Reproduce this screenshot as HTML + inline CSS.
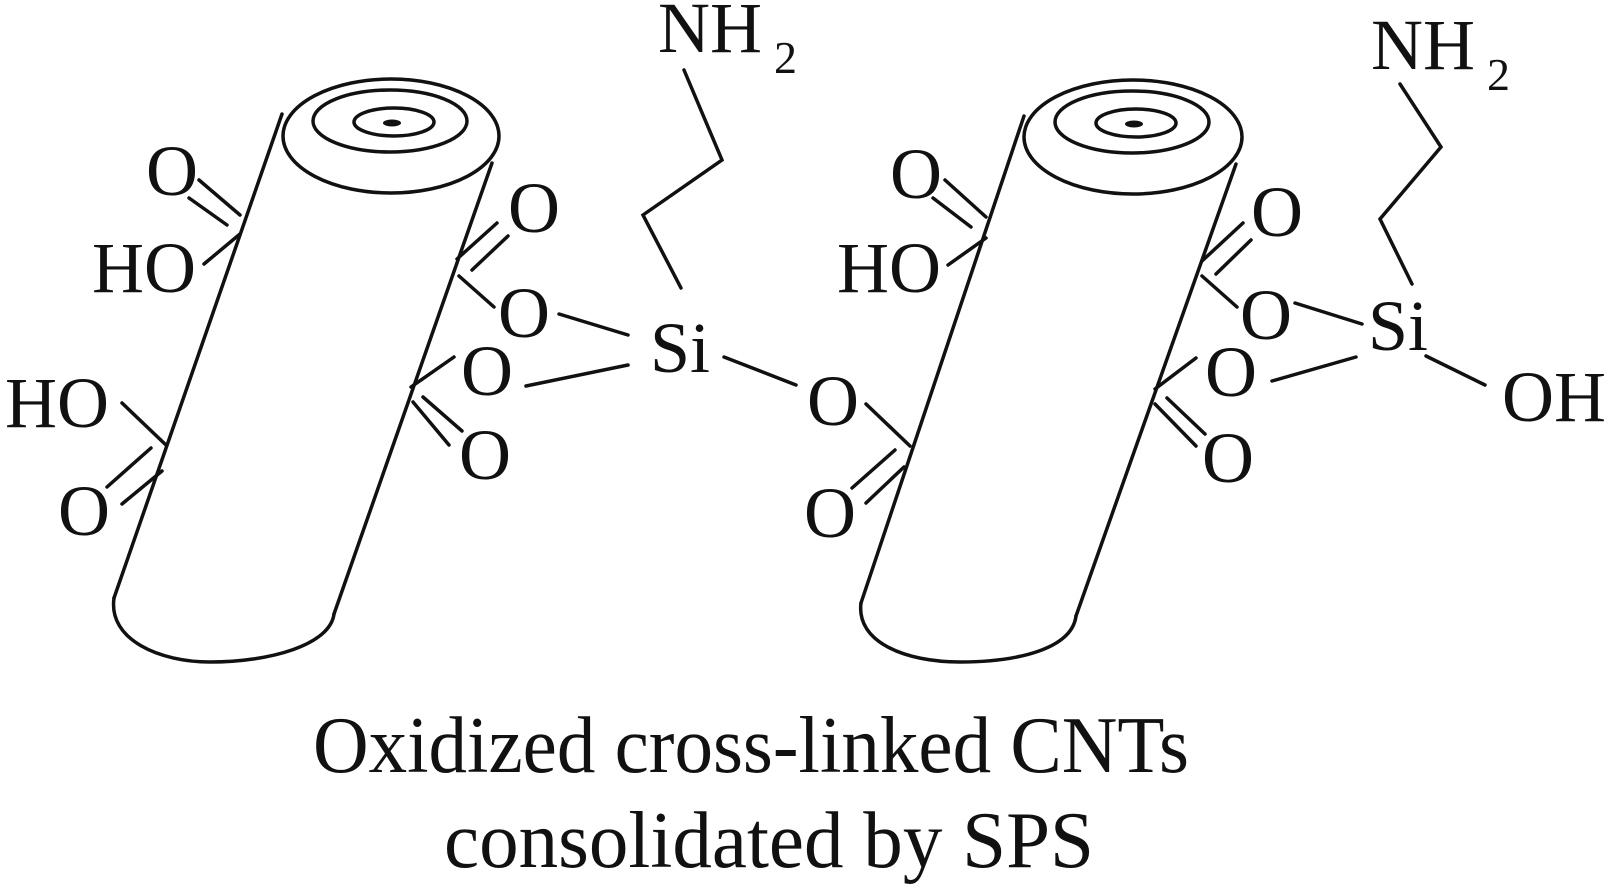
<!DOCTYPE html>
<html><head><meta charset="utf-8"><style>
html,body{margin:0;padding:0;background:#fff;}
svg{display:block;}
text{font-family:"Liberation Serif","DejaVu Serif",serif;fill:#111;}
</style></head><body>
<svg width="1615" height="886" viewBox="0 0 1615 886" xmlns="http://www.w3.org/2000/svg">
<g fill="none" stroke="#111" stroke-width="3.5" stroke-linecap="round">
<!-- Left cylinder -->
<ellipse cx="391" cy="136" rx="108" ry="57"/>
<ellipse cx="390" cy="121" rx="77" ry="31"/>
<ellipse cx="394" cy="122" rx="40" ry="14"/>
<line x1="282" y1="114" x2="114" y2="598"/>
<line x1="492" y1="163" x2="334" y2="614"/>
<path d="M114,598 C108,640 160,662 210,662 C270,662 330,645 334,614"/>
<!-- left cyl groups -->
<line x1="240" y1="215" x2="199" y2="180"/>
<line x1="227" y1="225" x2="189" y2="198"/>
<line x1="240" y1="234" x2="204" y2="264"/>
<line x1="457" y1="259" x2="497" y2="223"/>
<line x1="472" y1="270" x2="508" y2="236"/>
<line x1="459" y1="276" x2="494" y2="307"/>
<line x1="411" y1="387" x2="454" y2="357"/>
<line x1="413" y1="402" x2="449" y2="445"/>
<line x1="423" y1="397" x2="462" y2="431"/>
<line x1="166" y1="445" x2="122" y2="403"/>
<line x1="151" y1="448" x2="107" y2="487"/>
<line x1="162" y1="471" x2="122" y2="504"/>
<line x1="559" y1="314" x2="628" y2="335"/>
<line x1="526" y1="386" x2="628" y2="365"/>
<line x1="724" y1="357" x2="796" y2="385"/>
<polyline points="681,288 643,215 722,160 684,70"/>
<!-- bridge O to right cyl -->
<line x1="866" y1="404" x2="910" y2="446"/>
<!-- Right cylinder -->
<ellipse cx="1133" cy="137" rx="109" ry="57"/>
<ellipse cx="1132" cy="122" rx="77" ry="31"/>
<ellipse cx="1136" cy="123" rx="40" ry="14"/>
<line x1="1024" y1="116" x2="861" y2="603"/>
<line x1="1236" y1="164" x2="1076" y2="616"/>
<path d="M861,603 C856,642 905,662 960,662 C1020,662 1072,648 1076,616"/>
<line x1="986" y1="217" x2="945" y2="180"/>
<line x1="971" y1="227" x2="933" y2="198"/>
<line x1="986" y1="238" x2="948" y2="265"/>
<line x1="1202" y1="261" x2="1243" y2="223"/>
<line x1="1216" y1="274" x2="1251" y2="240"/>
<line x1="1202" y1="276" x2="1237" y2="307"/>
<line x1="1155" y1="389" x2="1196" y2="358"/>
<line x1="1155" y1="404" x2="1196" y2="446"/>
<line x1="1167" y1="398" x2="1205" y2="434"/>
<line x1="895" y1="450" x2="852" y2="488"/>
<line x1="904" y1="467" x2="866" y2="503"/>
<line x1="1295" y1="303" x2="1362" y2="324"/>
<line x1="1272" y1="381" x2="1356" y2="357"/>
<line x1="1426" y1="356" x2="1485" y2="385"/>
<polyline points="1412,284 1380,219 1441,147 1400,84"/>
</g>
<ellipse cx="392" cy="123" rx="9" ry="3.5" fill="#111"/>
<ellipse cx="1134" cy="124" rx="9" ry="3.5" fill="#111"/>
<g font-size="72">
<text x="172" y="195" text-anchor="middle">O</text>
<text x="92" y="292">HO</text>
<text x="534" y="232" text-anchor="middle">O</text>
<text x="524" y="337" text-anchor="middle">O</text>
<text x="487" y="395" text-anchor="middle">O</text>
<text x="485" y="479" text-anchor="middle">O</text>
<text x="5" y="427">HO</text>
<text x="84" y="535" text-anchor="middle">O</text>
<text x="650" y="372">Si</text>
<text x="658" y="52">NH</text>
<text x="833" y="425" text-anchor="middle">O</text>
<text x="837" y="292">HO</text>
<text x="916" y="198" text-anchor="middle">O</text>
<text x="1277" y="236" text-anchor="middle">O</text>
<text x="1266" y="339" text-anchor="middle">O</text>
<text x="1231" y="396" text-anchor="middle">O</text>
<text x="1228" y="482" text-anchor="middle">O</text>
<text x="830" y="537" text-anchor="middle">O</text>
<text x="1368" y="350">Si</text>
<text x="1502" y="421">OH</text>
<text x="1371" y="69">NH</text>
</g>
<g font-size="46">
<text x="774" y="73">2</text>
<text x="1487" y="90">2</text>
</g>
<g font-size="80">
<text x="313" y="772" textLength="876" lengthAdjust="spacingAndGlyphs">Oxidized cross-linked CNTs</text>
<text x="444" y="867" textLength="650" lengthAdjust="spacingAndGlyphs">consolidated by SPS</text>
</g>
</svg>
</body></html>
